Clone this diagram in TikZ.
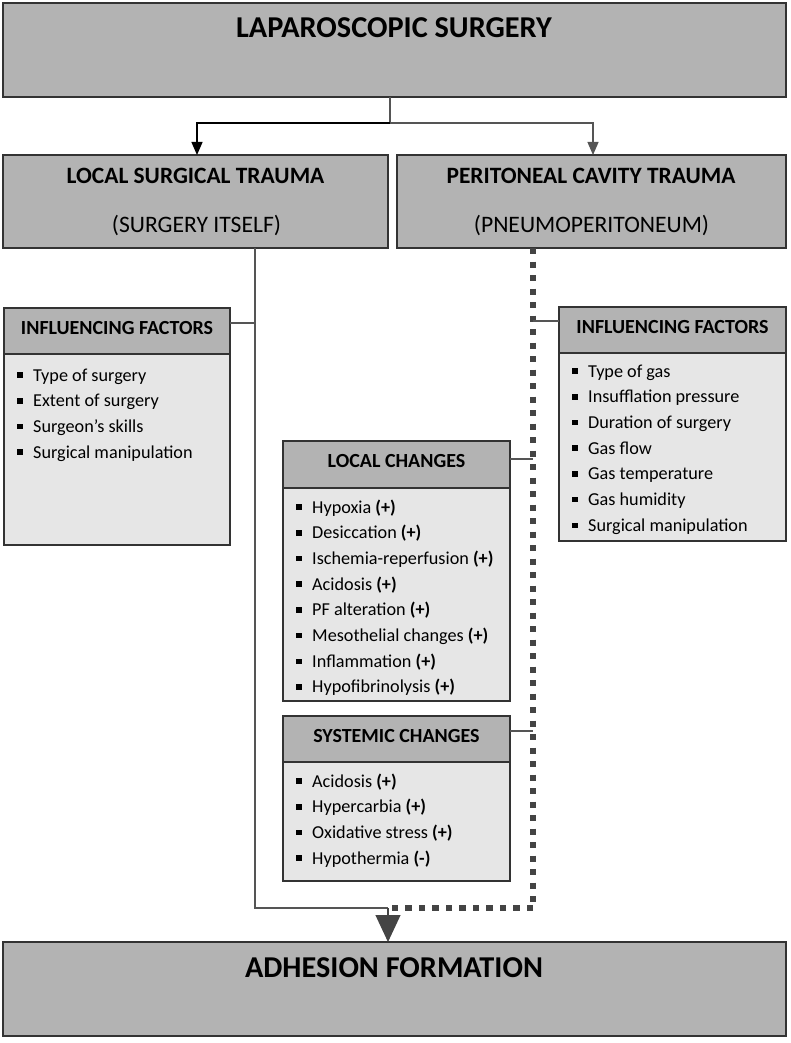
\documentclass[tikz,border=0pt]{standalone}
\usepackage{fontspec}
\setmainfont{Carlito}
\usetikzlibrary{arrows.meta}
\definecolor{hdr}{HTML}{B3B3B3}
\definecolor{bdy}{HTML}{E6E6E6}
\definecolor{edge}{HTML}{333333}
\definecolor{conn}{HTML}{555555}
\definecolor{dots}{HTML}{444444}
\newcommand{\itm}{\raisebox{3.2pt}{\rule{5.5pt}{5.5pt}}\hspace{10.5pt}}
\newcommand{\itemlist}[1]{\parbox[t]{230pt}{\raggedright #1}}
\begin{document}
\begin{tikzpicture}[x=1pt,y=-1pt,
  hbox/.style={draw=edge, line width=1.3pt, fill=hdr, anchor=north west, inner sep=0, outer sep=0},
  bbox/.style={draw=edge, line width=1.3pt, fill=bdy, anchor=north west, inner sep=0, outer sep=0},
  bigtitle/.style={font=\fontsize{30.3}{34}\selectfont\bfseries, inner sep=0, anchor=base},
  midtitle/.style={font=\fontsize{23.4}{28}\selectfont\bfseries, inner sep=0, anchor=base},
  subtitle/.style={font=\fontsize{23.6}{28}\selectfont, inner sep=0, anchor=base},
  htext/.style={font=\fontsize{20}{24}\selectfont\bfseries, inner sep=0, anchor=base},
  list/.style={font=\fontsize{18.2}{25.7}\selectfont, anchor=base west, inner sep=0},
  thin/.style={draw=conn, line width=1.2pt},
  dotline/.style={draw=dots, line width=6.2pt, dash pattern=on 6.4pt off 7.1pt},
]
\useasboundingbox (0,0) rectangle (790,1043);
% top box
\node[hbox, minimum width=783, minimum height=94] (top) at (3,3) {};
\node[bigtitle] (toptxt) at (394,38) {LAPAROSCOPIC SURGERY};
% second row
\node[hbox, minimum width=385, minimum height=93] (lst) at (3,155) {};
\node[midtitle] (lst1) at (195.5,183) {LOCAL SURGICAL TRAUMA};
\node[subtitle] (lst2) at (196.5,232) {(SURGERY ITSELF)};
\node[hbox, minimum width=389, minimum height=93] (pct) at (397,155) {};
\node[midtitle] (pct1) at (591,183) {PERITONEAL CAVITY TRAUMA};
\node[subtitle] (pct2) at (591.5,232) {(PNEUMOPERITONEUM)};
% arrows from top
\coordinate (split) at (390,123);
\draw[thin] (top.south -| split) -- (split);
\draw[draw=black, line width=1.2pt, -{Triangle[width=11pt,length=13pt]}] (split) -| (lst.north -| 197,0);
\draw[thin, -{Triangle[width=11pt,length=13pt]}] (split) -| (pct.north -| 593,0);
% left influencing factors
\node[bbox, minimum width=226, minimum height=237] (lif) at (4,308) {};
\node[hbox, minimum width=226, minimum height=46] (lifh) at (4,308) {};
\node[htext] (lifht) at (117,334) {INFLUENCING FACTORS};
\node[list] (lifl) at (17,381) {\itemlist{\itm Type of surgery\\ \itm Extent of surgery\\ \itm Surgeon’s skills\\ \itm Surgical manipulation}};
% right influencing factors
\node[bbox, minimum width=227, minimum height=234] (rif) at (559,307) {};
\node[hbox, minimum width=227, minimum height=46] (rifh) at (559,307) {};
\node[htext] (rifht) at (672.5,333) {INFLUENCING FACTORS};
\node[list] (rifl) at (572,377) {\itemlist{\itm Type of gas\\ \itm Insufflation pressure\\ \itm Duration of surgery\\ \itm Gas flow\\ \itm Gas temperature\\ \itm Gas humidity\\ \itm Surgical manipulation}};
% local changes
\node[bbox, minimum width=227, minimum height=260] (lc) at (283,441) {};
\node[hbox, minimum width=227, minimum height=47] (lch) at (283,441) {};
\node[htext] (lcht) at (396.5,467) {LOCAL CHANGES};
\node[list] (lcl) at (296,513) {\itemlist{\itm Hypoxia \textbf{(+)}\\ \itm Desiccation \textbf{(+)}\\ \itm Ischemia-reperfusion \textbf{(+)}\\ \itm Acidosis \textbf{(+)}\\ \itm PF alteration \textbf{(+)}\\ \itm Mesothelial changes \textbf{(+)}\\ \itm Inflammation \textbf{(+)}\\ \itm Hypofibrinolysis \textbf{(+)}}};
% systemic changes
\node[bbox, minimum width=227, minimum height=165] (sc) at (283,716) {};
\node[hbox, minimum width=227, minimum height=46] (sch) at (283,716) {};
\node[htext] (scht) at (396.5,742) {SYSTEMIC CHANGES};
\node[list] (scl) at (296,787) {\itemlist{\itm Acidosis \textbf{(+)}\\ \itm Hypercarbia \textbf{(+)}\\ \itm Oxidative stress \textbf{(+)}\\ \itm Hypothermia \textbf{(-)}}};
% adhesion formation
\node[hbox, minimum width=783, minimum height=94] (adh) at (3,942) {};
\node[bigtitle] (adhtxt) at (394,977) {ADHESION FORMATION};
% connectors
\coordinate (lrail) at (255,0);
\coordinate (rrail) at (533,0);
\coordinate (join) at (388,908);
\coordinate (corner) at (533,908);
\draw[dotline] (pct.south -| rrail) -- (corner);
\draw[dotline] (corner) -- (join);
\draw[thin] (rrail |- 0,321) -- (rifh.west |- 0,321);
\draw[thin] (lch.east |- 0,459) -- (rrail |- 0,459);
\draw[thin] (sch.east |- 0,731) -- (rrail |- 0,731);
\draw[thin] (lst.south -| lrail) -- (lrail |- join) -- (join);
\draw[thin] (lifh.east |- 0,323) -- (lrail |- 0,323);
\draw[draw=dots, line width=1.2pt, -{Triangle[width=25pt,length=27pt]}, fill=dots] (join) -- (adh.north -| join);
\end{tikzpicture}
\end{document}
